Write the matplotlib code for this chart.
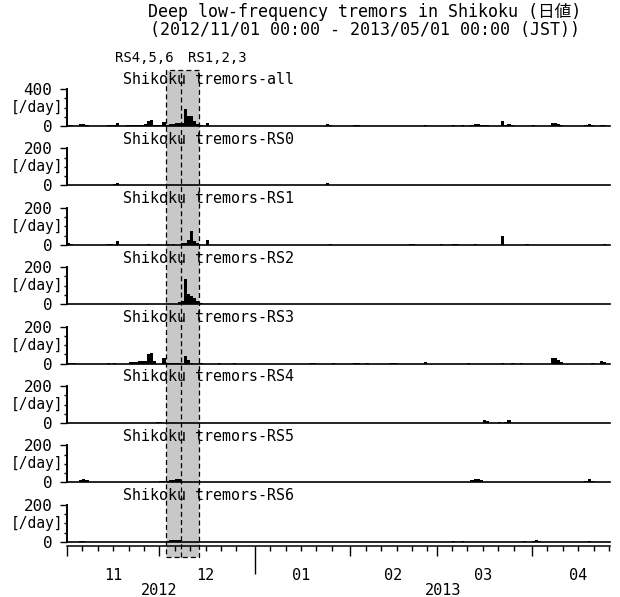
#!/usr/bin/env python3
"""Deep low-frequency tremors in Shikoku: daily counts per region."""

import datetime as dt

import matplotlib.dates as mdates
import matplotlib.pyplot as plt
import matplotlib.transforms as mtransforms
from matplotlib.lines import Line2D
from matplotlib.patches import Rectangle
import numpy as np

plt.rcParams["font.family"] = ["DejaVu Sans Mono", "Noto Sans CJK JP"]

W, H = 620, 597

PANEL_NAMES = ["all", "RS0", "RS1", "RS2", "RS3", "RS4", "RS5", "RS6"]
Y_MAX = [400, 200, 200, 200, 200, 200, 200, 200]

ALL_DATES = [
    "2012-11-01", "2012-11-02", "2012-11-03", "2012-11-05", "2012-11-06", "2012-11-07",
    "2012-11-14", "2012-11-15", "2012-11-16", "2012-11-17", "2012-11-20", "2012-11-21",
    "2012-11-22", "2012-11-23", "2012-11-24", "2012-11-25", "2012-11-26", "2012-11-27",
    "2012-11-28", "2012-11-29", "2012-11-30", "2012-12-01", "2012-12-02", "2012-12-03",
    "2012-12-04", "2012-12-05", "2012-12-06", "2012-12-07", "2012-12-08", "2012-12-09",
    "2012-12-10", "2012-12-11", "2012-12-12", "2012-12-13", "2012-12-14", "2012-12-16",
    "2012-12-20", "2012-12-21", "2012-12-25", "2013-01-10", "2013-01-19", "2013-01-20",
    "2013-01-24", "2013-01-25", "2013-01-26", "2013-02-02", "2013-02-03", "2013-02-06",
    "2013-02-14", "2013-02-15", "2013-02-20", "2013-02-21", "2013-02-25", "2013-03-02",
    "2013-03-06", "2013-03-07", "2013-03-09", "2013-03-11", "2013-03-12", "2013-03-13",
    "2013-03-14", "2013-03-15", "2013-03-16", "2013-03-17", "2013-03-22", "2013-03-23",
    "2013-03-24", "2013-03-25", "2013-03-26", "2013-03-28", "2013-03-30", "2013-04-01",
    "2013-04-05", "2013-04-07", "2013-04-08", "2013-04-09", "2013-04-10", "2013-04-18",
    "2013-04-19", "2013-04-20", "2013-04-23", "2013-04-24",
]
ALL_COUNTS = [
    12, 10, 4, 18, 22, 14,
    7, 8, 12, 36, 7, 10,
    10, 12, 16, 16, 22, 58,
    62, 16, 8, 10, 38, 15,
    20, 22, 28, 30, 28, 180,
    108, 112, 55, 26, 8, 30,
    5, 4, 4, 3, 4, 4,
    18, 9, 4, 6, 6, 4,
    4, 4, 4, 4, 12, 5,
    8, 5, 8, 4, 15, 25,
    20, 12, 14, 12, 52, 8,
    20, 14, 5, 3, 4, 6,
    3, 34, 32, 22, 10, 6,
    20, 10, 14, 13,
]

RS0_DATES = ["2012-11-16", "2012-11-17", "2012-12-07", "2012-12-08", "2013-01-24",
             "2013-01-25", "2013-02-02", "2013-02-25", "2013-03-13", "2013-04-05"]
RS0_COUNTS = [8, 12, 4, 4, 15, 4, 3, 3, 4, 3]

RS1_DATES = ["2012-11-01", "2012-11-02", "2012-11-14", "2012-11-15", "2012-11-17",
             "2012-11-27", "2012-12-03", "2012-12-05", "2012-12-08", "2012-12-09",
             "2012-12-10", "2012-12-11", "2012-12-12", "2012-12-13", "2012-12-16",
             "2013-01-25", "2013-02-20", "2013-02-21", "2013-03-02", "2013-03-06",
             "2013-03-07", "2013-03-13", "2013-03-22", "2013-03-30", "2013-04-24"]
RS1_COUNTS = [8, 6, 4, 5, 23, 5, 3, 3, 10, 12, 27, 75, 22, 9, 27,
              5, 3, 3, 4, 4, 4, 3, 45, 4, 3]

RS2_DATES = ["2012-11-20", "2012-12-03", "2012-12-07", "2012-12-08", "2012-12-09",
             "2012-12-10", "2012-12-11", "2012-12-12", "2012-12-13", "2012-12-14",
             "2012-12-21", "2013-01-10", "2013-02-28"]
RS2_COUNTS = [2, 3, 10, 18, 135, 55, 42, 34, 18, 5, 3, 2, 3]

RS3_DATES = ["2012-11-01", "2012-11-02", "2012-11-03", "2012-11-14", "2012-11-16",
             "2012-11-21", "2012-11-22", "2012-11-23", "2012-11-24", "2012-11-25",
             "2012-11-26", "2012-11-27", "2012-11-28", "2012-11-29", "2012-12-02",
             "2012-12-03", "2012-12-04", "2012-12-05", "2012-12-06", "2012-12-07",
             "2012-12-09", "2012-12-10", "2012-12-11", "2012-12-14", "2012-12-20",
             "2012-12-25", "2013-01-19", "2013-01-20", "2013-01-26", "2013-02-02",
             "2013-02-03", "2013-02-06", "2013-02-14", "2013-02-15", "2013-02-25",
             "2013-03-11", "2013-03-22", "2013-03-25", "2013-03-28", "2013-04-07",
             "2013-04-08", "2013-04-09", "2013-04-10", "2013-04-20", "2013-04-23",
             "2013-04-24"]
RS3_COUNTS = [4, 4, 3, 3, 3,
              8, 8, 8, 14, 14,
              12, 54, 59, 14, 32,
              5, 4, 5, 4, 5,
              40, 18, 5, 3, 3,
              3, 3, 3, 3, 3,
              3, 3, 3, 3, 9,
              3, 4, 5, 3, 32,
              30, 22, 10, 4, 14,
              10]

RS4_DATES = ["2012-11-30", "2012-12-01", "2012-12-02", "2012-12-04", "2012-12-06",
             "2012-12-20", "2013-03-16", "2013-03-17", "2013-03-21", "2013-03-23",
             "2013-03-24"]
RS4_COUNTS = [3, 3, 2, 2, 2, 2, 14, 12, 3, 8, 14]

RS5_DATES = ["2012-11-05", "2012-11-06", "2012-11-07", "2012-11-30", "2012-12-01",
             "2012-12-02", "2012-12-03", "2012-12-04", "2012-12-05", "2012-12-06",
             "2012-12-07", "2013-03-09", "2013-03-12", "2013-03-13", "2013-03-14",
             "2013-03-15", "2013-04-01", "2013-04-18", "2013-04-19", "2013-04-20"]
RS5_COUNTS = [15, 18, 12, 4, 5, 5, 7, 11, 11, 18, 18, 4, 15, 18, 18, 12, 3, 6, 18, 6]

RS6_DATES = ["2012-11-05", "2012-11-06", "2012-12-03", "2012-12-04", "2012-12-05",
             "2012-12-06", "2012-12-07", "2013-03-06", "2013-03-09", "2013-03-29",
             "2013-04-01", "2013-04-02", "2013-04-03", "2013-04-19"]
RS6_COUNTS = [3, 3, 5, 8, 10, 10, 8, 3, 4, 4, 6, 9, 5, 4]

SERIES = [
    (ALL_DATES, ALL_COUNTS), (RS0_DATES, RS0_COUNTS), (RS1_DATES, RS1_COUNTS),
    (RS2_DATES, RS2_COUNTS), (RS3_DATES, RS3_COUNTS), (RS4_DATES, RS4_COUNTS),
    (RS5_DATES, RS5_COUNTS), (RS6_DATES, RS6_COUNTS),
]

MONTH_LABELS = ["11", "12", "01", "02", "03", "04"]
MONTH_MIDS = [dt.datetime(2012, 11, 16), dt.datetime(2012, 12, 16), dt.datetime(2013, 1, 16),
              dt.datetime(2013, 2, 15), dt.datetime(2013, 3, 16), dt.datetime(2013, 4, 16)]
MONTH_STARTS = [dt.datetime(2012, 11, 1), dt.datetime(2012, 12, 1), dt.datetime(2013, 1, 1),
                dt.datetime(2013, 2, 1), dt.datetime(2013, 3, 1), dt.datetime(2013, 4, 1)]
YEAR_LABELS = ["2012", "2013"]
YEAR_MIDS = [dt.datetime(2012, 12, 1), dt.datetime(2013, 3, 3)]

X_START = dt.datetime(2012, 11, 1)
X_END = dt.datetime(2013, 4, 26, 7)

EPISODE_START = dt.datetime(2012, 12, 3)
EPISODE_SPLIT = dt.datetime(2012, 12, 8)
EPISODE_END = dt.datetime(2012, 12, 14)

TITLE = ("Deep low-frequency tremors in Shikoku (日値)\n"
         "(2012/11/01 00:00 - 2013/05/01 00:00 (JST))")


def fx(px):
    return px / W


def fy(py):
    return 1 - py / H


def main():
    fig = plt.figure(figsize=(W / 100, H / 100), dpi=100, facecolor="white")

    ax_left, ax_right = 67, 610
    panel_h = 37
    axes = []
    for i, (name, ymax, (dates, counts)) in enumerate(zip(PANEL_NAMES, Y_MAX, SERIES)):
        top = 89 + 59.4 * i
        ax = fig.add_axes([fx(ax_left), fy(top + panel_h), fx(ax_right) - fx(ax_left), panel_h / H])
        ax.patch.set_visible(False)
        axes.append(ax)

        x = np.array(dates, dtype="datetime64[D]")
        ax.bar(x, counts, width=1.0, align="edge", color="black", linewidth=0, zorder=2)
        ax.axhline(0, color="black", linewidth=1.2, clip_on=False, zorder=3)

        ax.set_xlim(X_START, X_END)
        ax.set_ylim(0, ymax)
        for side in ("top", "right", "bottom"):
            ax.spines[side].set_visible(False)
        ax.spines["left"].set_linewidth(1.4)

        ax.set_yticks([0, ymax])
        ax.set_yticks([ymax / 4, ymax / 2, ymax * 3 / 4], minor=True)
        ax.tick_params(axis="y", which="major", direction="out", length=5, width=1.0,
                       pad=5.5, labelsize=11.5)
        ax.tick_params(axis="y", which="minor", direction="out", length=2.2, width=1.0)
        ax.tick_params(axis="x", which="both", bottom=False, labelbottom=False)

        ax.annotate("[/day]", xy=(0, 0.5), xycoords="axes fraction", xytext=(-3, 0),
                    textcoords="offset points", ha="right", va="center", fontsize=10.5)
        ax.annotate("Shikoku tremors-" + name, xy=((123 - ax_left) / (ax_right - ax_left), 1),
                    xycoords="axes fraction", xytext=(0, 6.5), textcoords="offset points",
                    ha="left", va="center", fontsize=10.8)

    # time axis under the last panel
    ax = axes[-1]
    ax.spines["bottom"].set_visible(True)
    ax.spines["bottom"].set_position(("outward", 3))
    ax.spines["bottom"].set_linewidth(1.1)
    ax.xaxis.set_major_locator(mdates.MonthLocator())
    ax.xaxis.set_minor_locator(mdates.DayLocator(bymonthday=[6, 11, 16, 21, 26]))
    ax.tick_params(axis="x", which="major", bottom=True, labelbottom=False,
                   direction="out", length=7, width=1.0)
    ax.tick_params(axis="x", which="minor", bottom=True, direction="out", length=3.6, width=1.0)
    ticks = ax.xaxis.get_major_ticks(len(MONTH_STARTS))
    ticks[2].tick1line.set_markersize(20)

    for label, mid in zip(MONTH_LABELS, MONTH_MIDS):
        ax.annotate(label, xy=(mdates.date2num(mid), 0), xycoords=("data", "axes fraction"),
                    xytext=(0, -24.5), textcoords="offset points", ha="center", va="center",
                    fontsize=11, annotation_clip=False)
    for label, mid in zip(YEAR_LABELS, YEAR_MIDS):
        ax.annotate(label, xy=(mdates.date2num(mid), 0), xycoords=("data", "axes fraction"),
                    xytext=(0, -35), textcoords="offset points", ha="center", va="center",
                    fontsize=11, annotation_clip=False)

    # shaded episode box spanning all panels
    top_ax = axes[0]
    trans = mtransforms.blended_transform_factory(top_ax.transData, fig.transFigure)
    x0 = mdates.date2num(EPISODE_START)
    x1 = mdates.date2num(EPISODE_END)
    xm = mdates.date2num(EPISODE_SPLIT)
    y0, y1 = fy(557), fy(70)
    rect = Rectangle((x0, y0), x1 - x0, y1 - y0, transform=trans, facecolor="#c8c8c8",
                     edgecolor="black", linestyle=(0, (4, 2.5)), linewidth=0.9, zorder=-1)
    fig.add_artist(rect)
    fig.add_artist(Line2D([xm, xm], [y0, y1], transform=trans, color="black",
                          linestyle=(0, (4, 2.5)), linewidth=0.9, zorder=-1))

    top_ax.text(mdates.date2num(dt.datetime(2012, 12, 5, 12)), fy(58), "RS4,5,6",
                transform=trans, ha="right", va="center", fontsize=10)
    top_ax.text(mdates.date2num(dt.datetime(2012, 12, 10, 6)), fy(58), "RS1,2,3",
                transform=trans, ha="left", va="center", fontsize=10)

    fig.text(fx(365), fy(21), TITLE, ha="center", va="center", fontsize=12,
             linespacing=0.95, multialignment="center")

    fig.savefig("out.png", dpi=100, facecolor="white")
    plt.close(fig)


if __name__ == "__main__":
    main()
